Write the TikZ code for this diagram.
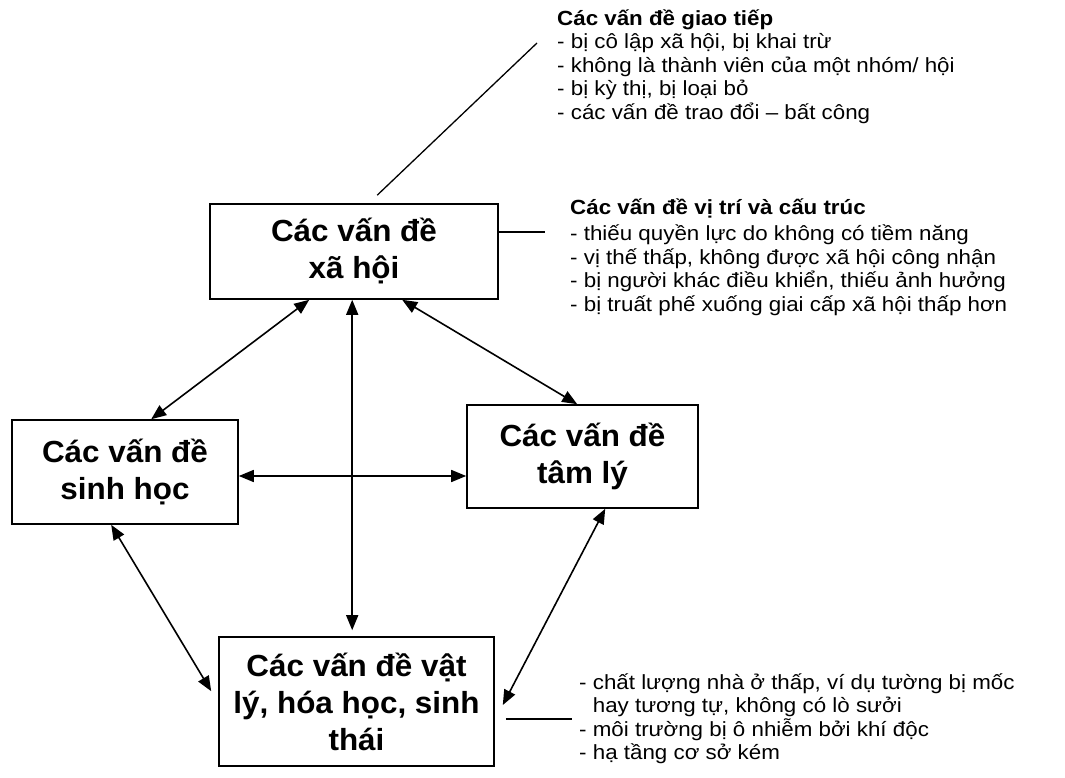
\documentclass[tikz,border=0pt]{standalone}
\usepackage{fontspec}
\setmainfont{Liberation Sans}
\newfontfamily\topicfont[FakeStretch=1.03]{Liberation Sans}
\newfontfamily\notefont[FakeStretch=1.09]{Liberation Sans}
\usetikzlibrary{arrows.meta}

\tikzset{
  topic/.style={draw, line width=1.6pt, align=center, inner sep=0pt,
    font=\topicfont\bfseries\fontsize{30.5}{37}\selectfont},
  link/.style={line width=1.6pt, {Triangle[length=15pt,width=12pt]}-{Triangle[length=15pt,width=12pt]}},
  lead/.style={line width=1.3pt},
  notes/.style={anchor=north west, align=left, inner sep=0pt,
    font=\notefont\fontsize{20.5}{23.5}\selectfont}
}

\begin{document}
\begin{tikzpicture}[x=1pt, y=-1pt]
  \useasboundingbox (0,0) rectangle (1065,778);

  % the four problem areas
  \node[topic, minimum width=288pt, minimum height=95pt]  (soc)  at (354,251.5) {Các vấn đề\\xã hội};
  \node[topic, minimum width=226pt, minimum height=104pt] (bio)  at (125,472)   {Các vấn đề\\sinh học};
  \node[topic, minimum width=231pt, minimum height=103pt] (psy)  at (582.5,456.5) {Các vấn đề\\tâm lý};
  \node[topic, minimum width=275pt, minimum height=129pt] (phys) at (356.5,701.5) {Các vấn đề vật\\lý, hóa học, sinh\\thái};

  % mutual influences
  \draw[link] ([xshift=100pt]soc.south west) -- ([xshift=140pt]bio.north west);
  \draw[link] ([xshift=143pt]soc.south west) -- ([xshift=134pt,yshift=6pt]phys.north west);
  \draw[link] ([xshift=193pt]soc.south west) -- ([xshift=111pt]psy.north west);
  \draw[link] ([yshift=-4pt]bio.east) -- ([yshift=-19.5pt]psy.west);
  \draw[link] ([xshift=100pt]bio.south west) -- ([xshift=-7pt,yshift=-55pt]phys.north west);
  \draw[link] ([xshift=139pt]psy.south west) -- ([xshift=8pt,yshift=-3.5pt]phys.east);

  % detail lists
  \node[notes] (comm) at (557,9.5) {\textbf{Các vấn đề giao tiếp}\\
    - bị cô lập xã hội, bị khai trừ\\
    - không là thành viên của một nhóm/ hội\\
    - bị kỳ thị, bị loại bỏ\\
    - các vấn đề trao đổi – bất công};
  \node[notes] (pos) at (570,198.5) {\textbf{Các vấn đề vị trí và cấu trúc}\\[3pt]
    - thiếu quyền lực do không có tiềm năng\\
    - vị thế thấp, không được xã hội công nhận\\
    - bị người khác điều khiển, thiếu ảnh hưởng\\
    - bị truất phế xuống giai cấp xã hội thấp hơn};
  \node[notes] (env) at (579,673.5) {- chất lượng nhà ở thấp, ví dụ tường bị mốc\\
    \phantom{- }hay tương tự, không có lò sưởi\\
    - môi trường bị ô nhiễm bởi khí độc\\
    - hạ tầng cơ sở kém};

  % leader lines to the lists
  \coordinate (commend) at (537,43);
  \coordinate (posend) at (545,232);
  \coordinate (envend) at (572,719);
  \draw[lead] ([xshift=168pt,yshift=8pt]soc.north west) -- (commend);
  \draw[lead] ([yshift=19.5pt]soc.east) -- (posend);
  \draw[lead] ([xshift=11pt,yshift=-17.5pt]phys.east) -- (envend);
\end{tikzpicture}
\end{document}
